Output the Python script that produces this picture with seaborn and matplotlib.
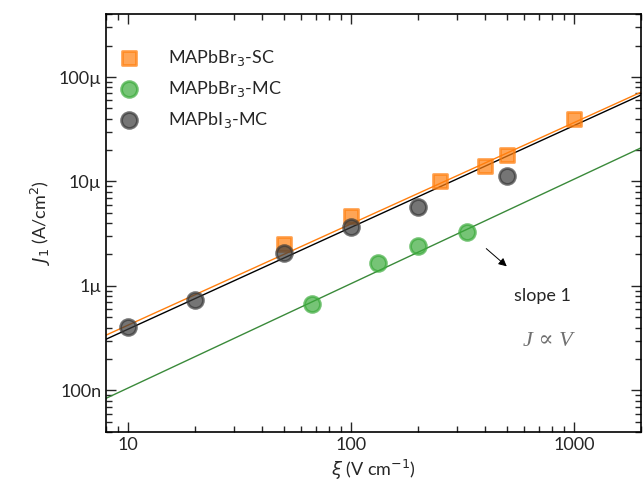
import numpy as np
import pandas as pd
import matplotlib
matplotlib.use("Agg")
import matplotlib.pyplot as plt
import seaborn as sns

# dados (campo em V/cm, densidade de corrente em A/cm2)
sc_campo = [50, 100, 250, 400, 500, 1000]
sc_J = [2.54e-6, 4.71e-6, 1.02e-5, 1.40e-5, 1.78e-5, 3.95e-5]

br_mc_campo = [66.7, 133, 200, 333]
br_mc_J = [6.7e-7, 1.64e-6, 2.39e-6, 3.30e-6]

i_mc_campo = [10, 20, 50, 100, 200, 500]
i_mc_J = [4.04e-7, 7.33e-7, 2.07e-6, 3.69e-6, 5.66e-6, 1.12e-5]

# parâmetros dos ajustes J = A * campo^n
ajuste_A = [4.5e-8, 1.05e-8, 4.07e-8]
ajuste_n = [0.97, 1.0, 0.975]

nomes = ["MAPbBr$_3$-SC", "MAPbBr$_3$-MC", "MAPbI$_3$-MC"]
cores = ["#ff7f0e", "#3cab3c", "#3a3a3a"]
cores_linha = ["#ff7f0e", "#3a8a3a", "black"]
marcadores = ["s", "o", "o"]
tamanhos = [115, 130, 130]

y_ticks = [1e-7, 1e-6, 1e-5, 1e-4]
y_ticklabels = ["100n", "1µ", "10µ", "100µ"]
x_ticks = [10, 100, 1000]
x_ticklabels = ["10", "100", "1000"]

sns.set_style("ticks")
plt.rcParams["font.family"] = ["Lato", "DejaVu Sans"]
plt.rcParams["mathtext.fontset"] = "dejavusans"

fig = plt.figure(figsize=(6.43, 4.87), dpi=100)
ax = fig.add_axes([0.165, 0.113, 0.832, 0.858])

xlim = (8, 2000)
ylim = (4e-8, 4e-4)

# linhas de ajuste
x_fit = np.logspace(np.log10(xlim[0]), np.log10(xlim[1]), 50)
for A, n, c in zip(ajuste_A, ajuste_n, cores_linha):
    df_fit = pd.DataFrame({"x": x_fit, "y": A * x_fit ** n})
    sns.lineplot(data=df_fit, x="x", y="y", color=c, lw=1.0, ax=ax, zorder=2)

# pontos
series = [(sc_campo, sc_J), (br_mc_campo, br_mc_J), (i_mc_campo, i_mc_J)]
for (xs, ys), nome, c, m, t in zip(series, nomes, cores, marcadores, tamanhos):
    df = pd.DataFrame({"x": xs, "y": ys})
    sns.scatterplot(data=df, x="x", y="y", marker=m, s=t, color=c,
                    edgecolor=c, linewidth=2.0, alpha=0.7, ax=ax, zorder=3,
                    label=nome)

ax.set_xscale("log")
ax.set_yscale("log")
ax.set_xlim(*xlim)
ax.set_ylim(*ylim)
ax.set_xticks(x_ticks)
ax.set_xticklabels(x_ticklabels)
ax.set_yticks(y_ticks)
ax.set_yticklabels(y_ticklabels)

ax.tick_params(which="both", direction="in", top=True, right=True, labelsize=13, width=1.0)
ax.tick_params(which="major", length=7)
ax.tick_params(which="minor", length=4)
for s in ax.spines.values():
    s.set_linewidth(1.2)
    s.set_color("black")

ax.set_xlabel(r"$\xi$ (V cm$^{-1}$)", fontsize=13)
ax.set_ylabel(r"$J_1$ (A/cm$^2$)", fontsize=13)

leg = ax.legend(loc="upper left", bbox_to_anchor=(-0.022, 0.958), frameon=False,
                fontsize=13, handletextpad=1.2, labelspacing=0.6,
                markerscale=1.0)

ax.annotate("", xy=(511, 1.48e-6), xytext=(396, 2.37e-6),
            arrowprops=dict(arrowstyle="-|>", color="black", lw=0.7, mutation_scale=12))
ax.text(0.762, 0.325, "slope 1", transform=ax.transAxes, ha="left", va="center", fontsize=13)
ax.text(0.78, 0.216, "J ∝ V", transform=ax.transAxes, ha="left", va="center",
        fontsize=16, color="#707070", style="italic",
        family=["Liberation Serif", "DejaVu Serif"])

fig.savefig("out.png", dpi=100)
